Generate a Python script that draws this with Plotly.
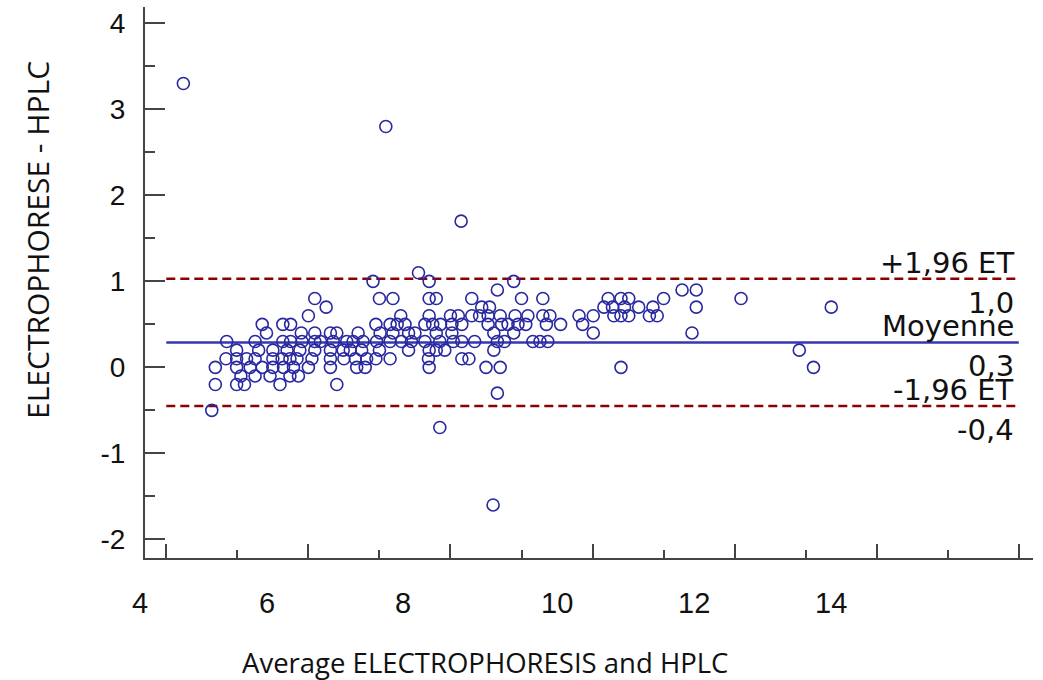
import plotly.graph_objects as go

# ---- data ----
avg = [
    # left cluster
    6.09, 6.25, 6.00,
    5.35, 5.64, 5.75,
    5.41, 5.90, 6.09, 6.31, 6.40, 6.70,
    4.85, 5.25, 5.64, 5.75, 5.91, 6.09, 6.17, 6.35, 6.54, 6.63, 6.77,
    4.99, 5.30, 5.50, 5.70, 5.88, 6.09, 6.31, 6.49, 6.59, 6.75,
    4.84, 4.99, 5.13, 5.25, 5.50, 5.63, 5.74, 5.84, 6.05, 6.31, 6.50, 6.66, 6.82,
    4.69, 4.99, 5.18, 5.35, 5.50, 5.65, 5.79, 6.00, 6.31, 6.68, 6.80,
    5.05, 5.25, 5.46, 5.74, 5.86,
    4.69, 4.99, 5.10, 5.60, 6.40,
    4.64, 4.24,
    # middle cluster
    7.55,
    6.91, 7.70, 8.89,
    8.66,
    7.00, 7.19, 7.70, 7.80, 8.30, 9.00,
    8.44, 8.55,
    7.30, 7.70, 8.00, 8.11, 8.30, 8.41, 8.53, 8.70, 8.91, 9.09,
    6.95, 7.15, 7.25, 7.36, 7.64, 7.75, 7.86, 8.02, 8.16, 8.53, 8.72, 8.81, 8.95, 9.06,
    7.01, 7.19, 7.41, 7.50, 7.80, 8.02, 8.61, 8.89,
    6.96, 7.15, 7.31, 7.45, 7.64, 7.85, 8.04, 8.16, 8.34, 8.66, 8.76, 9.16, 9.26,
    7.00, 7.41, 7.70, 7.80, 7.92, 8.61,
    6.95, 7.15, 7.69, 8.16, 8.26,
    7.70, 8.50, 8.70,
    8.66,
    7.09, 8.15, 7.85, 8.60,
    # right part
    11.26, 11.46,
    9.30, 10.22, 10.40, 10.51, 11.00, 12.09,
    10.16, 10.28, 10.45, 10.65, 10.85, 11.46,
    9.30, 9.40, 9.81, 10.01, 10.30, 10.40, 10.51, 10.80, 10.91,
    9.35, 9.55, 9.86,
    10.01, 11.40,
    9.37,
    10.40,
    13.36, 12.91, 13.11,
]
diff = [
    0.8, 0.7, 0.6,
    0.5, 0.5, 0.5,
    0.4, 0.4, 0.4, 0.4, 0.4, 0.4,
    0.3, 0.3, 0.3, 0.3, 0.3, 0.3, 0.3, 0.3, 0.3, 0.3, 0.3,
    0.2, 0.2, 0.2, 0.2, 0.2, 0.2, 0.2, 0.2, 0.2, 0.2,
    0.1, 0.1, 0.1, 0.1, 0.1, 0.1, 0.1, 0.1, 0.1, 0.1, 0.1, 0.1, 0.1,
    0.0, 0.0, 0.0, 0.0, 0.0, 0.0, 0.0, 0.0, 0.0, 0.0, 0.0,
    -0.1, -0.1, -0.1, -0.1, -0.1,
    -0.2, -0.2, -0.2, -0.2, -0.2,
    -0.5, 3.3,
    1.1,
    1.0, 1.0, 1.0,
    0.9,
    0.8, 0.8, 0.8, 0.8, 0.8, 0.8,
    0.7, 0.7,
    0.6, 0.6, 0.6, 0.6, 0.6, 0.6, 0.6, 0.6, 0.6, 0.6,
    0.5, 0.5, 0.5, 0.5, 0.5, 0.5, 0.5, 0.5, 0.5, 0.5, 0.5, 0.5, 0.5, 0.5,
    0.4, 0.4, 0.4, 0.4, 0.4, 0.4, 0.4, 0.4,
    0.3, 0.3, 0.3, 0.3, 0.3, 0.3, 0.3, 0.3, 0.3, 0.3, 0.3, 0.3, 0.3,
    0.2, 0.2, 0.2, 0.2, 0.2, 0.2,
    0.1, 0.1, 0.1, 0.1, 0.1,
    0.0, 0.0, 0.0,
    -0.3,
    2.8, 1.7, -0.7, -1.6,
    0.9, 0.9,
    0.8, 0.8, 0.8, 0.8, 0.8, 0.8,
    0.7, 0.7, 0.7, 0.7, 0.7, 0.7,
    0.6, 0.6, 0.6, 0.6, 0.6, 0.6, 0.6, 0.6, 0.6,
    0.5, 0.5, 0.5,
    0.4, 0.4,
    0.3,
    0.0,
    0.7, 0.2, 0.0,
]

mean_diff = 0.29
upper_loa = 1.03
lower_loa = -0.45

x_tick_text = ["4", "6", "8", "10", "12", "14"]
y_tick_vals = [-2, -1, 0, 1, 2, 3, 4]
y_tick_text = ["-2", "-1", "0", "1", "2", "3", "4"]

line_labels_above = ["+1,96 ET", "Moyenne", "-1,96 ET"]
line_labels_below = ["1,0", "0,3", "-0,4"]

x_title = "Average ELECTROPHORESIS and HPLC"
y_title = "ELECTROPHORESE - HPLC"

# ---- layout helpers (positions / styles) ----
W, H = 1043, 680
M_L, M_R, M_T, M_B = 145, 10, 7, 122
x_range = [3.70, 16.2]
y_range = [-2.217, 4.19]
x_tick_label_pos = [3.635, 5.42, 7.33, 9.50, 11.435, 13.36]   # where the labels sit (data units)
line_x0, line_x1 = 4.0, 16.0
text_x = 15.96


def x_to_paper(v):
    return (v - x_range[0]) / (x_range[1] - x_range[0])


fig = go.Figure()
fig.add_trace(go.Scatter(
    x=avg, y=diff, mode="markers",
    marker=dict(symbol="circle-open", size=12, color="rgb(40,40,160)",
                line=dict(width=1.6, color="rgb(40,40,160)")),
    showlegend=False, hoverinfo="x+y",
))

for yv, col, dash in [(upper_loa, "rgb(140,0,0)", "9px,5px"),
                      (mean_diff, "rgb(55,55,175)", "solid"),
                      (lower_loa, "rgb(140,0,0)", "9px,5px")]:
    fig.add_shape(type="line", xref="x", yref="y", x0=line_x0, x1=line_x1,
                  y0=yv, y1=yv, line=dict(color=col, width=2.5, dash=dash),
                  layer="below")

label_font = dict(family="DejaVu Sans, sans-serif", size=29, color="#111111")
for yv, above, below in zip([upper_loa, mean_diff, lower_loa],
                            line_labels_above, line_labels_below):
    fig.add_annotation(x=text_x, y=yv, xref="x", yref="y", text=above,
                       showarrow=False, xanchor="right", yanchor="middle",
                       yshift=16, font=label_font)
    fig.add_annotation(x=text_x, y=yv, xref="x", yref="y", text=below,
                       showarrow=False, xanchor="right", yanchor="middle",
                       yshift=-24, font=label_font)

for pos, txt in zip(x_tick_label_pos, x_tick_text):
    fig.add_annotation(x=x_to_paper(pos), y=0, xref="paper", yref="paper", text=txt,
                       showarrow=False, xanchor="center", yanchor="middle",
                       yshift=-45, font=dict(family="Liberation Sans, Arial, sans-serif",
                                             size=29, color="#111111"))

# axis titles (placed as in the reference)
plot_w = W - M_L - M_R
plot_h = H - M_T - M_B
fig.add_annotation(x=(485 - M_L) / plot_w, y=(H - M_B - 662) / plot_h,
                   xref="paper", yref="paper", text=x_title, showarrow=False,
                   xanchor="center", yanchor="middle",
                   font=dict(family="Open Sans, sans-serif", size=27.5, color="#111111"))
fig.add_annotation(x=(37 - M_L) / plot_w, y=(H - M_B - 240) / plot_h,
                   xref="paper", yref="paper", text=y_title, showarrow=False,
                   textangle=-90, xanchor="center", yanchor="middle",
                   font=dict(family="Open Sans, sans-serif", size=30, color="#111111"))

axis_col = "#444444"
fig.update_layout(
    width=W, height=H,
    margin=dict(l=M_L, r=M_R, t=M_T, b=M_B, autoexpand=False),
    paper_bgcolor="white", plot_bgcolor="white",
    xaxis=dict(range=x_range, showgrid=False, zeroline=False, automargin=False,
               showline=True, linecolor=axis_col, linewidth=2,
               ticks="inside", tickmode="linear", tick0=4, dtick=2,
               ticklen=14, tickwidth=2, tickcolor=axis_col,
               minor=dict(ticks="inside", dtick=1, tick0=4, ticklen=8,
                          tickwidth=2, tickcolor=axis_col, showgrid=False),
               showticklabels=False),
    yaxis=dict(range=y_range, showgrid=False, zeroline=False, automargin=False,
               showline=True, linecolor=axis_col, linewidth=2,
               ticks="inside", tickvals=y_tick_vals, ticktext=y_tick_text,
               ticklen=20, tickwidth=2, tickcolor=axis_col,
               minor=dict(ticks="inside", dtick=0.5, tick0=0, ticklen=10,
                          tickwidth=2, tickcolor=axis_col, showgrid=False),
               tickfont=dict(family="Liberation Sans, Arial, sans-serif", size=28, color="#111111"),
               ticklabelstandoff=12),
)

fig.write_html("out.html", config={"displayModeBar": False},
               post_script="document.body.style.margin='0';document.body.style.overflow='hidden';")
